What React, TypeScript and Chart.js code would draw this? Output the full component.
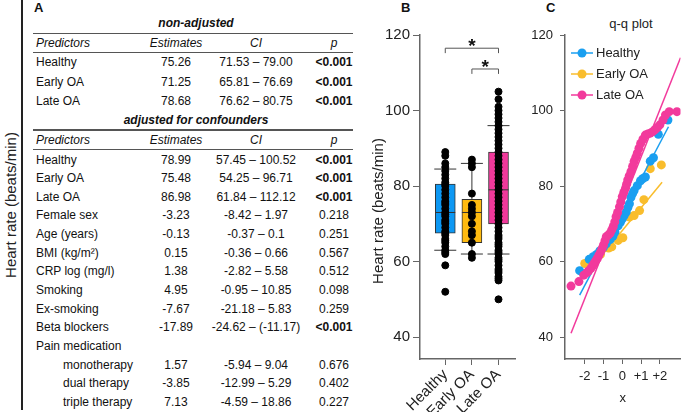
import React, { useEffect, useRef } from "react";
import { Chart, registerables } from "chart.js";
Chart.register(...registerables);

const FONT = '"Liberation Sans", Arial, Helvetica, sans-serif';
Chart.defaults.font.family = FONT;

// ---------- Panel A table data ----------
const nonAdjPredictors = ["Healthy", "Early OA", "Late OA"];
const nonAdjEstimates = ["75.26", "71.25", "78.68"];
const nonAdjCI = ["71.53 – 79.00", "65.81 – 76.69", "76.62 – 80.75"];
const nonAdjP = ["<0.001", "<0.001", "<0.001"];

const adjPredictors = [
  "Healthy", "Early OA", "Late OA", "Female sex", "Age (years)", "BMI (kg/m²)",
  "CRP log (mg/l)", "Smoking", "Ex-smoking", "Beta blockers", "Pain medication",
  "monotherapy", "dual therapy", "triple therapy",
];
const adjEstimates = ["78.99", "75.48", "86.98", "-3.23", "-0.13", "0.15", "1.38", "4.95", "-7.67", "-17.89", "", "1.57", "-3.85", "7.13"];
const adjCI = [
  "57.45 – 100.52", "54.25 – 96.71", "61.84 – 112.12", "-8.42 – 1.97", "-0.37 – 0.1",
  "-0.36 – 0.66", "-2.82 – 5.58", "-0.95 – 10.85", "-21.18 – 5.83", "-24.62 – (-11.17)",
  "", "-5.94 – 9.04", "-12.99 – 5.29", "-4.59 – 18.86",
];
const adjP = ["<0.001", "<0.001", "<0.001", "0.218", "0.251", "0.567", "0.512", "0.098", "0.259", "<0.001", "", "0.676", "0.402", "0.227"];
const indentedRows = [11, 12, 13];

// ---------- Panel B box plot data ----------
const groups = ["Healthy", "Early OA", "Late OA"];
const boxColors = ["#0d98f3", "#ffbb10", "#f0399b"];
const q1 = [67.5, 65, 70];
const median = [73, 73, 79];
const q3 = [80.5, 76.5, 89];
const whiskerLow = [63, 62, 62];
const whiskerHigh = [84.5, 86, 96];
const healthyHR = [52, 59, 62, 62.5, 63, 64, 65, 65.5, 66, 67, 67.5, 68, 69, 70, 70.5, 71, 72, 72.5, 73, 74, 75, 75.5, 76, 77, 78, 79, 80, 80.5, 81, 82, 83, 84, 85, 86, 88, 89];
const earlyHR = [61, 62, 65, 67, 68, 70, 72, 73, 74, 75, 78, 85, 86, 87];
const lateHR = [50, 55, 55.5, 56, 57, 57.5, 58, 59, 60, 60.5, 61, 62, 62.5, 63, 64, 64.5, 65, 66, 66.5, 67, 68, 69, 70, 71, 72, 73, 74, 75, 76, 77, 78, 79, 80, 81, 82, 83, 84, 85, 86, 87, 88, 89, 90, 91, 92, 93, 94, 95, 96, 97, 98, 99, 100, 101, 103, 105];
const yTicks = [40, 60, 80, 100, 120];
const bracketFrom = [1, 2];
const bracketTo = [3, 3];
const bracketLevel = [116.5, 111];
const bracketDrop = 1.3;
const bracketLabel = ["*", "*"];

// ---------- Panel C q-q data ----------
const qqNames = ["Healthy", "Early OA", "Late OA"];
const qqColors = ["#1a9ff0", "#f9bd2c", "#f23a9c"];
const healthyQx = [-2.27, -1.76, -1.55, -1.37, -1.2, -1.0, -0.85, -0.65, -0.5, -0.39, -0.22, -0.1, 0.0, 0.1, 0.21, 0.3, 0.38, 0.46, 0.55, 0.63, 0.8, 0.97, 1.1, 1.23, 1.49, 1.66, 1.92, 2.43];
const healthyQy = [57.6, 60.6, 61.3, 61.9, 62.8, 63.8, 64.7, 65.8, 66.7, 67.8, 69.5, 70.4, 71.3, 72.2, 73.1, 74.3, 75.3, 77.0, 78.0, 78.8, 80.1, 81.4, 82.0, 82.4, 86.6, 87.5, 93.7, 97.5];
const earlyQx = [-2.0, -1.62, -1.16, -0.73, -0.56, -0.22, 0.03, 0.38, 0.63, 0.92, 1.15, 1.49, 2.08];
const earlyQy = [59.5, 60.6, 61.9, 63.6, 63.9, 65.6, 66.3, 71.8, 72.2, 73.5, 76.4, 84.6, 85.6];
const lateQx = [-2.73, -2.31, -2.05, -1.9, -1.8, -1.67, -1.58, -1.5, -1.42, -1.33, -1.25, -1.16, -1.08, -1.0, -0.92, -0.85, -0.75, -0.65, -0.56, -0.48, -0.4, -0.33, -0.25, -0.15, -0.08, 0.0, 0.08, 0.17, 0.23, 0.29, 0.37, 0.46, 0.55, 0.63, 0.72, 0.8, 0.89, 0.98, 1.1, 1.23, 1.36, 1.49, 1.62, 1.74, 1.87, 2.0, 2.17, 2.3, 2.5, 2.91];
const lateQy = [53.5, 54.7, 56.4, 57.0, 57.5, 58.2, 58.9, 59.5, 60.2, 60.8, 61.6, 62.5, 63.4, 64.4, 65.5, 66.6, 67.0, 67.5, 68.4, 69.3, 70.5, 71.9, 73.0, 74.5, 75.8, 77.2, 78.3, 79.4, 80.5, 81.6, 82.7, 83.8, 85.2, 86.5, 87.6, 88.7, 90.0, 91.3, 92.4, 93.5, 93.8, 94.0, 94.4, 94.9, 95.5, 96.2, 97.5, 98.8, 99.7, 99.7];
const lineHealthyX = [-2.27, 2.46];
const lineHealthyY = [51.1, 95.7];
const lineEarlyX = [-2.07, 2.12];
const lineEarlyY = [55.7, 81.0];
const lineLateX = [-2.73, 3.1];
const lineLateY = [41.0, 114.0];
const qqXTicks = [-2, -1, 0, 1, 2];

const AXIS = "#666";
const TXT = "#222";

const boxPlugin = {
  id: "boxWhiskers",
  beforeDatasetDraw(chart: any, args: any) {
    if (args.index !== 1) return;
    const { ctx, scales } = chart;
    const x = scales.x, y = scales.y;
    ctx.save();
    ctx.strokeStyle = "#333";
    ctx.lineWidth = 1;
    groups.forEach((_, i) => {
      const px = x.getPixelForValue(i + 1);
      const seg = (x1: number, y1: number, x2: number, y2: number) => {
        ctx.beginPath(); ctx.moveTo(x1, y1); ctx.lineTo(x2, y2); ctx.stroke();
      };
      seg(px, y.getPixelForValue(whiskerLow[i]), px, y.getPixelForValue(q1[i]));
      seg(px, y.getPixelForValue(q3[i]), px, y.getPixelForValue(whiskerHigh[i]));
      seg(px - 11, y.getPixelForValue(whiskerLow[i]), px + 11, y.getPixelForValue(whiskerLow[i]));
      seg(px - 11, y.getPixelForValue(whiskerHigh[i]), px + 11, y.getPixelForValue(whiskerHigh[i]));
      seg(px - 10, y.getPixelForValue(median[i]), px + 10, y.getPixelForValue(median[i]));
    });
    ctx.restore();
  },
  afterDraw(chart: any) {
    const { ctx, scales, chartArea } = chart;
    const x = scales.x, y = scales.y;
    ctx.save();
    ctx.strokeStyle = "#555";
    ctx.lineWidth = 1;
    bracketLevel.forEach((lv, i) => {
      const xa = x.getPixelForValue(bracketFrom[i]);
      const xb = x.getPixelForValue(bracketTo[i]);
      const yl = y.getPixelForValue(lv);
      const yd = y.getPixelForValue(lv - bracketDrop);
      ctx.beginPath();
      ctx.moveTo(xa, yd); ctx.lineTo(xa, yl); ctx.lineTo(xb, yl); ctx.lineTo(xb, yd);
      ctx.stroke();
      ctx.fillStyle = "#111";
      ctx.font = `bold 19px ${FONT}`;
      ctx.textAlign = "center";
      ctx.textBaseline = "alphabetic";
      ctx.fillText(bracketLabel[i], (xa + xb) / 2, yl + 4);
    });
    // y-axis title
    ctx.translate(chartArea.left - 41, 211);
    ctx.rotate(-Math.PI / 2);
    ctx.fillStyle = TXT;
    ctx.font = `15px ${FONT}`;
    ctx.textAlign = "center";
    ctx.textBaseline = "middle";
    ctx.fillText("Heart rate (beats/min)", 0, 0);
    ctx.restore();
  },
};

const qqLegendPlugin = {
  id: "qqLegend",
  afterDraw(chart: any) {
    const { ctx, chartArea } = chart;
    ctx.save();
    qqNames.forEach((name, i) => {
      const yy = chartArea.top + 18 + i * 21;
      const l = chartArea.left;
      ctx.strokeStyle = qqColors[i];
      ctx.fillStyle = qqColors[i];
      ctx.lineWidth = 1.5;
      ctx.beginPath(); ctx.moveTo(l + 6, yy); ctx.lineTo(l + 28, yy); ctx.stroke();
      ctx.beginPath(); ctx.arc(l + 17, yy, 4.5, 0, Math.PI * 2); ctx.fill();
      ctx.fillStyle = TXT;
      ctx.font = `13px ${FONT}`;
      ctx.textAlign = "left";
      ctx.textBaseline = "middle";
      ctx.fillText(name, l + 31, yy + 0.5);
    });
    ctx.restore();
  },
};

function BoxChart() {
  const ref = useRef<HTMLCanvasElement>(null);
  useEffect(() => {
    const pts = [
      ...healthyHR.map((v) => ({ x: 1, y: v })),
      ...earlyHR.map((v) => ({ x: 2, y: v })),
      ...lateHR.map((v) => ({ x: 3, y: v })),
    ];
    const chart = new Chart(ref.current!, {
      type: "bar",
      data: {
        datasets: [
          {
            type: "bar",
            data: groups.map((_, i) => ({ x: i + 1, y: [q1[i], q3[i]] })) as any,
            backgroundColor: boxColors,
            borderColor: "#333",
            borderWidth: 1,
            borderSkipped: false,
            barThickness: 20,
            order: 1,
          } as any,
          {
            type: "scatter",
            data: pts,
            backgroundColor: "#000",
            borderColor: "#000",
            pointRadius: 3.5,
            order: 0,
          } as any,
        ],
      },
      options: {
        animation: false,
        responsive: false,
        events: [],
        layout: { padding: { top: 35, right: 2, left: 0, bottom: 0 } },
        plugins: { legend: { display: false }, tooltip: { enabled: false } },
        scales: {
          x: {
            type: "linear",
            min: 0.05,
            max: 3.62,
            offset: false,
            afterBuildTicks: (s: any) => { s.ticks = [1, 2, 3].map((v) => ({ value: v })); },
            afterFit: (s: any) => { s.height = 53; },
            ticks: {
              callback: (v: any) => groups[Number(v) - 1],
              minRotation: 45,
              maxRotation: 45,
              autoSkip: false,
              font: { size: 15 },
              color: TXT,
              padding: 1,
            },
            grid: { display: true, drawOnChartArea: false, drawTicks: true, tickLength: 6, color: AXIS, offset: false },
            border: { display: true, color: AXIS, width: 1.5 },
          } as any,
          y: {
            type: "linear",
            min: 34.2,
            max: 120,
            afterBuildTicks: (s: any) => { s.ticks = yTicks.map((v) => ({ value: v })); },
            afterFit: (s: any) => { s.width = 65; },
            ticks: { font: { size: 15 }, color: TXT, padding: 3 },
            grid: { display: true, drawOnChartArea: false, drawTicks: true, tickLength: 7, color: AXIS },
            border: { display: true, color: AXIS, width: 1.5 },
          } as any,
        },
      },
      plugins: [boxPlugin],
    });
    return () => chart.destroy();
  }, []);
  return <canvas ref={ref} width={165} height={412} style={{ position: "absolute", left: 355, top: 0, width: 165, height: 412 }} />;
}

function QQChart() {
  const ref = useRef<HTMLCanvasElement>(null);
  useEffect(() => {
    const pts = (xs: number[], ys: number[]) => xs.map((x, i) => ({ x, y: ys[i] }));
    const ptsDs = (xs: number[], ys: number[], c: string, order: number) => ({
      type: "scatter", data: pts(xs, ys), backgroundColor: c, borderColor: c, pointRadius: 4.5, borderWidth: 0, order,
    });
    const lineDs = (xs: number[], ys: number[], c: string, order: number) => ({
      type: "scatter", data: pts(xs, ys), showLine: true, borderColor: c, borderWidth: 1.5, pointRadius: 0, order,
    });
    const chart = new Chart(ref.current!, {
      type: "scatter",
      data: {
        datasets: [
          lineDs(lineLateX, lineLateY, qqColors[2], 0),
          ptsDs(lateQx, lateQy, qqColors[2], 1),
          lineDs(lineHealthyX, lineHealthyY, qqColors[0], 2),
          ptsDs(healthyQx, healthyQy, qqColors[0], 3),
          lineDs(lineEarlyX, lineEarlyY, qqColors[1], 4),
          ptsDs(earlyQx, earlyQy, qqColors[1], 5),
        ] as any,
      },
      options: {
        animation: false,
        responsive: false,
        events: [],
        layout: { padding: { top: 35, right: 0, left: 0, bottom: 0 } },
        plugins: { legend: { display: false }, tooltip: { enabled: false } },
        scales: {
          x: {
            type: "linear",
            min: -3.05,
            max: 3.1,
            afterBuildTicks: (s: any) => { s.ticks = qqXTicks.map((v) => ({ value: v })); },
            afterFit: (s: any) => { s.height = 53; },
            ticks: {
              callback: (v: any) => (Number(v) > 0 ? "+" + v : String(v)),
              font: { size: 13 },
              color: TXT,
              padding: 5,
              maxRotation: 0,
              autoSkip: false,
            },
            title: { display: true, text: "x", font: { size: 13 }, color: TXT, padding: { top: 0, bottom: 6 } },
            grid: { display: true, drawOnChartArea: false, drawTicks: true, tickLength: 5, color: AXIS },
            border: { display: true, color: AXIS, width: 1.5 },
          } as any,
          y: {
            type: "linear",
            min: 34.2,
            max: 120,
            afterBuildTicks: (s: any) => { s.ticks = yTicks.map((v) => ({ value: v })); },
            afterFit: (s: any) => { s.width = 45; },
            ticks: { font: { size: 13 }, color: TXT, padding: 7 },
            grid: { display: true, drawOnChartArea: false, drawTicks: true, tickLength: 5, color: AXIS },
            border: { display: true, color: AXIS, width: 1.5 },
          } as any,
        },
      },
      plugins: [qqLegendPlugin],
    });
    return () => chart.destroy();
  }, []);
  return <canvas ref={ref} width={165} height={412} style={{ position: "absolute", left: 520, top: 0, width: 165, height: 412 }} />;
}

const PRED_X = 36;
const INDENT_X = 63;
const EST_C = 176;
const CI_C = 256;
const P_C = 334;

function Cell({ cx, y, text, w, bold, italic }: any) {
  return (
    <div style={{ position: "absolute", left: cx - w / 2, top: y - 8, width: w, height: 16, lineHeight: "16px", textAlign: "center", fontWeight: bold ? "bold" : "normal", fontStyle: italic ? "italic" : "normal", whiteSpace: "nowrap" }}>
      {text}
    </div>
  );
}

function Row({ y, pred, est, ci, p, italic, indent }: any) {
  return (
    <>
      <div style={{ position: "absolute", left: indent ? INDENT_X : PRED_X, top: y - 8, height: 16, lineHeight: "16px", fontStyle: italic ? "italic" : "normal", whiteSpace: "nowrap" }}>{pred}</div>
      <Cell cx={EST_C} y={y} w={80} text={est} italic={italic} />
      <Cell cx={CI_C} y={y} w={130} text={ci} italic={italic} />
      <Cell cx={P_C} y={y} w={60} text={p} italic={italic} bold={p === "<0.001"} />
    </>
  );
}

function HLine({ y, w }: any) {
  return <div style={{ position: "absolute", left: 33, top: y, width: 320, height: w, background: "#555" }} />;
}

function Table() {
  const nonAdjY = [62, 81.5, 101];
  const adjY0 = 159.5;
  const adjStep = 18.65;
  return (
    <div style={{ position: "absolute", left: 0, top: 0, width: 355, height: 412, fontSize: 12, color: "#111" }}>
      <div style={{ position: "absolute", left: 21, top: 0, width: 1.5, height: 410, background: "#222" }} />
      <div style={{ position: "absolute", left: 10, top: 205, transform: "translate(-50%, -50%) rotate(-90deg)", fontSize: 15, whiteSpace: "nowrap", color: TXT }}>
        Heart rate (beats/min)
      </div>
      <div style={{ position: "absolute", left: 34, top: 0, fontSize: 13, fontWeight: "bold", lineHeight: "16px" }}>A</div>
      <div style={{ position: "absolute", left: 96, width: 200, top: 15, textAlign: "center", fontWeight: "bold", fontStyle: "italic", lineHeight: "16px" }}>non-adjusted</div>
      <HLine y={32.5} w={1.5} />
      <Row y={43} pred="Predictors" est="Estimates" ci="CI" p="p" italic />
      <HLine y={51.5} w={1} />
      {nonAdjPredictors.map((p, i) => (
        <Row key={"n" + i} y={nonAdjY[i]} pred={p} est={nonAdjEstimates[i]} ci={nonAdjCI[i]} p={nonAdjP[i]} />
      ))}
      <div style={{ position: "absolute", left: 96, width: 200, top: 112, textAlign: "center", fontWeight: "bold", fontStyle: "italic", lineHeight: "16px" }}>adjusted for confounders</div>
      <HLine y={129} w={1.5} />
      <Row y={139.5} pred="Predictors" est="Estimates" ci="CI" p="p" italic />
      <HLine y={148.5} w={1} />
      {adjPredictors.map((p, i) => (
        <Row key={"a" + i} y={adjY0 + i * adjStep} pred={p} est={adjEstimates[i]} ci={adjCI[i]} p={adjP[i]} indent={indentedRows.includes(i)} />
      ))}
    </div>
  );
}

export default function App() {
  return (
    <div style={{ position: "absolute", left: 0, top: 0, width: 685, height: 412, background: "#fff", fontFamily: FONT, color: "#111", overflow: "hidden" }}>
      <Table />
      <div style={{ position: "absolute", left: 401, top: 0, fontSize: 13, fontWeight: "bold", lineHeight: "16px" }}>B</div>
      <div style={{ position: "absolute", left: 546, top: 0, fontSize: 13, fontWeight: "bold", lineHeight: "16px" }}>C</div>
      <div style={{ position: "absolute", left: 591, width: 80, top: 16, fontSize: 13, textAlign: "center", lineHeight: "16px", color: TXT }}>q-q plot</div>
      <BoxChart />
      <QQChart />
    </div>
  );
}
